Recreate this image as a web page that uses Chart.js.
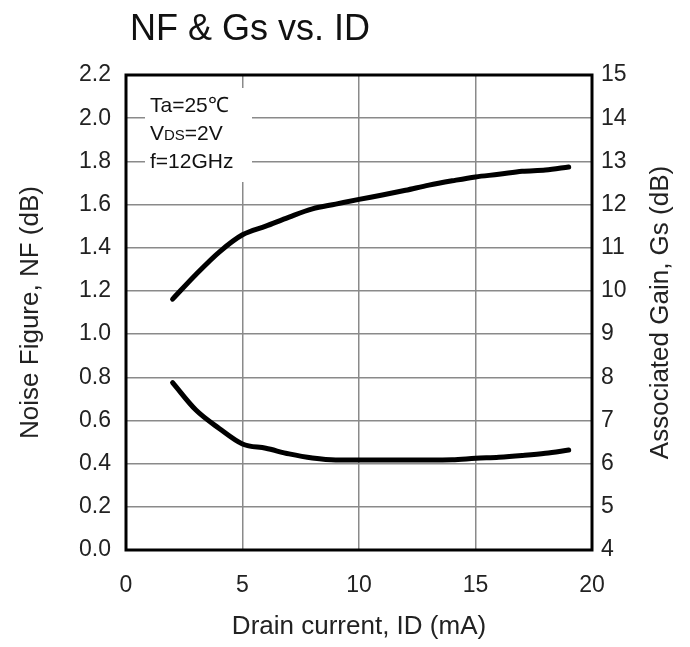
<!DOCTYPE html>
<html>
<head>
<meta charset="utf-8">
<script src="https://cdn.jsdelivr.net/npm/chart.js@4/dist/chart.umd.min.js"></script>
<style>
  html, body { margin: 0; padding: 0; background: #fff; }
  #wrap { width: 690px; height: 647px; }
</style>
</head>
<body>
<div id="wrap"><canvas id="nfChart" width="690" height="647"></canvas></div>
<script>
// ===============================
// DATA
// ===============================
const drainCurrent = [2, 3, 4, 5, 6, 7, 8, 9, 10, 11, 12, 13, 14, 15, 16, 17, 18, 19];
const noiseFigure = [0.775, 0.648, 0.563, 0.491, 0.471, 0.445, 0.426, 0.417, 0.417,
                     0.417, 0.417, 0.417, 0.418, 0.425, 0.430, 0.438, 0.448, 0.463];
const assocGain = [9.81, 10.38, 10.90, 11.30, 11.50, 11.71, 11.90, 12.01, 12.12,
                   12.22, 12.33, 12.45, 12.55, 12.64, 12.70, 12.77, 12.80, 12.87];

const currentTicks = [0, 5, 10, 15, 20];
const nfTicks = [0, 0.2, 0.4, 0.6, 0.8, 1.0, 1.2, 1.4, 1.6, 1.8, 2.0, 2.2];
const gainTicks = [4, 5, 6, 7, 8, 9, 10, 11, 12, 13, 14, 15];

const FONT = "'Liberation Sans', Arial, sans-serif";

const toPoints = (xs, ys) => xs.map((x, i) => ({ x: x, y: ys[i] }));
const setTicks = list => scale => { scale.ticks = list.map(v => ({ value: v })); };

/* ===============================
   TITLE, CONDITIONS BOX, FRAME
================================ */
const decor = {
  id: "decor",
  beforeDatasetsDraw(chart) {
    const ctx = chart.ctx;
    ctx.save();
    ctx.fillStyle = "#fff";
    ctx.fillRect(145, 88, 107, 94);
    ctx.fillStyle = "#111";
    ctx.textBaseline = "alphabetic";
    ctx.font = "21px " + FONT;
    ctx.fillText("Ta=25\u2103", 150, 112);
    // V with small DS
    ctx.fillText("V", 150, 140);
    let w = ctx.measureText("V").width;
    ctx.font = "15px " + FONT;
    ctx.fillText("DS", 150 + w, 140);
    w += ctx.measureText("DS").width;
    ctx.font = "21px " + FONT;
    ctx.fillText("=2V", 150 + w, 140);
    ctx.fillText("f=12GHz", 150, 168);
    ctx.restore();
  },
  afterDraw(chart) {
    const { ctx, chartArea: a } = chart;
    ctx.save();
    ctx.strokeStyle = "#000";
    ctx.lineWidth = 3;
    ctx.strokeRect(a.left, a.top, a.right - a.left, a.bottom - a.top);
    ctx.fillStyle = "#111";
    ctx.font = "36px " + FONT;
    ctx.textBaseline = "alphabetic";
    ctx.fillText("NF & Gs vs. ID", 130, 40);
    // right axis title reads bottom-to-top
    ctx.fillStyle = "#222";
    ctx.font = "26px " + FONT;
    ctx.textAlign = "center";
    ctx.textBaseline = "middle";
    ctx.translate(661, (a.top + a.bottom) / 2);
    ctx.rotate(-Math.PI / 2);
    ctx.fillText("Associated Gain, Gs (dB)", 0, 0);
    ctx.restore();
  }
};

new Chart(document.getElementById("nfChart"), {
  type: "line",
  data: {
    datasets: [
      {
        label: "NF",
        data: toPoints(drainCurrent, noiseFigure),
        yAxisID: "yNF",
        borderColor: "#000",
        borderWidth: 5,
        pointRadius: 0,
        cubicInterpolationMode: "monotone",
        borderCapStyle: "round",
        borderJoinStyle: "round"
      },
      {
        label: "Gs",
        data: toPoints(drainCurrent, assocGain),
        yAxisID: "yGs",
        borderColor: "#000",
        borderWidth: 5,
        pointRadius: 0,
        cubicInterpolationMode: "monotone",
        borderCapStyle: "round",
        borderJoinStyle: "round"
      }
    ]
  },
  options: {
    responsive: false,
    animation: false,
    devicePixelRatio: 1,
    layout: { padding: { top: 75, left: 0, right: 0, bottom: 0 } },
    plugins: {
      legend: { display: false },
      tooltip: { enabled: false }
    },
    scales: {
      x: {
        type: "linear",
        min: 0, max: 20,
        afterBuildTicks: setTicks(currentTicks),
        afterFit: s => { s.height = 97; },
        grid: { color: "#8a8a8a", lineWidth: 1.5, drawTicks: false },
        border: { display: false },
        ticks: { color: "#222", font: { family: FONT, size: 23, lineHeight: 1.2 }, padding: 22, maxRotation: 0 },
        title: {
          display: true, text: "Drain current, ID (mA)", color: "#222",
          font: { family: FONT, size: 26, lineHeight: 1.2 }, padding: { top: 0, bottom: 5 }
        }
      },
      yNF: {
        position: "left",
        min: 0, max: 2.2,
        afterBuildTicks: setTicks(nfTicks),
        afterFit: s => { s.width = 126; },
        grid: { color: "#8a8a8a", lineWidth: 1.5, drawTicks: false },
        border: { display: false },
        ticks: {
          color: "#222", font: { family: FONT, size: 23, lineHeight: 1.2 }, padding: 15,
          callback: v => v.toFixed(1)
        },
        title: {
          display: true, text: "Noise Figure, NF (dB)", color: "#222",
          font: { family: FONT, size: 26, lineHeight: 1.2 }, padding: { top: 15, bottom: 0 }
        }
      },
      yGs: {
        position: "right",
        min: 4, max: 15,
        afterBuildTicks: setTicks(gainTicks),
        afterFit: s => { s.width = 98; },
        grid: { display: false, drawTicks: false },
        border: { display: false },
        ticks: { color: "#222", font: { family: FONT, size: 23, lineHeight: 1.2 }, padding: 9 },
        title: { display: false }
      }
    }
  },
  plugins: [decor]
});
</script>
</body>
</html>
